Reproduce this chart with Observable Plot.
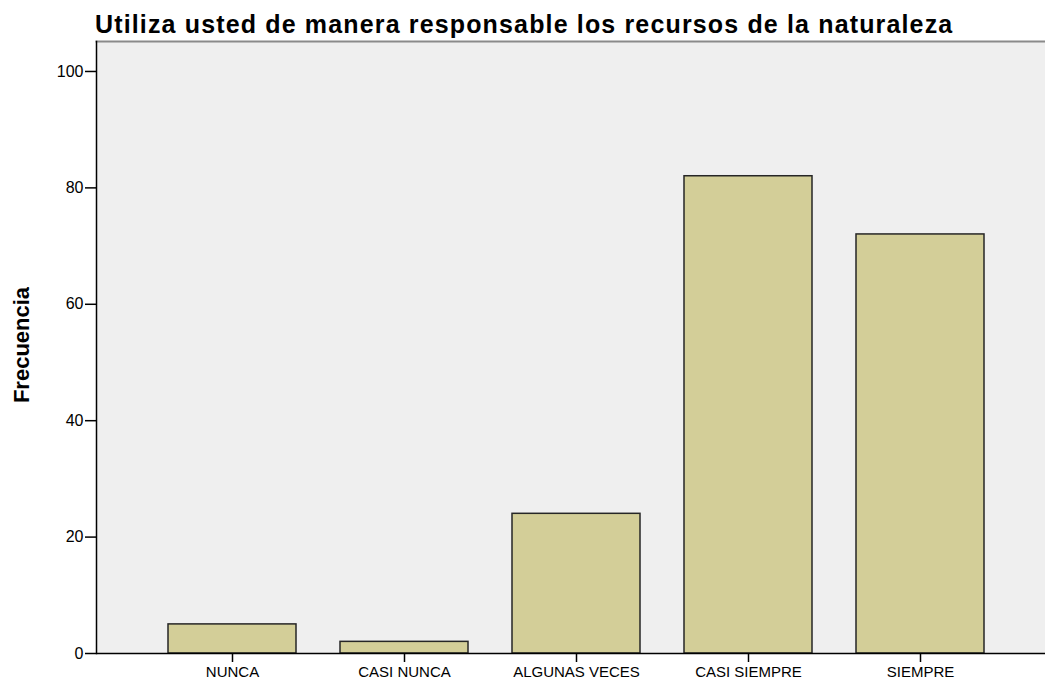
<!DOCTYPE html>
<html>
<head>
<meta charset="utf-8">
<script src="https://cdn.jsdelivr.net/npm/d3@7"></script>
<script src="https://cdn.jsdelivr.net/npm/@observablehq/plot@0.6"></script>
<style>
  html, body { margin: 0; padding: 0; background: #fff; }
  #wrap { position: relative; width: 1045px; height: 684px; font-family: "Liberation Sans", Arial, sans-serif; }
  #title { position: absolute; left: 95px; top: 10px; font-size: 25px; font-weight: bold; color: #000; white-space: nowrap; line-height: 28px; letter-spacing: 1.15px; }
  #ylab { position: absolute; left: 22px; top: 345px; transform: translate(-50%, -50%) rotate(-90deg); font-size: 22px; font-weight: bold; color: #000; white-space: nowrap; }
  #chart { position: absolute; left: 0; top: 40px; }
</style>
</head>
<body>
<div id="wrap">
  <div id="title">Utiliza usted de manera responsable los recursos de la naturaleza</div>
  <div id="ylab">Frecuencia</div>
  <div id="chart"></div>
</div>
<script>
const categories = ["NUNCA", "CASI NUNCA", "ALGUNAS VECES", "CASI SIEMPRE", "SIEMPRE"];
const frecuencias = [5, 2, 24, 82, 72];
const yTicks = [0, 20, 40, 60, 80, 100];

const data = categories.map((c, i) => ({cat: c, value: frecuencias[i]}));

const chart = Plot.plot({
  width: 1045,
  height: 644,
  marginLeft: 96,
  marginRight: 0,
  marginTop: 1,
  marginBottom: 31,
  style: {fontFamily: "'Liberation Sans', Arial, sans-serif", background: "transparent", overflow: "visible"},
  x: {domain: categories, range: [96, 1056], paddingInner: 0.253, paddingOuter: 0.405, label: null},
  y: {domain: [0, 105.15], label: null},
  marks: [
    Plot.frame({fill: "#efefef", stroke: null}),
    Plot.frame({anchor: "top", stroke: "#8a8a8a", strokeWidth: 2}),
    Plot.barY(data, {x: "cat", y: "value", fill: "#d3ce98", stroke: "#262626", strokeWidth: 1.5}),
    Plot.frame({anchor: "left", stroke: "#000", strokeWidth: 1.5}),
    Plot.ruleY([0], {stroke: "#000", strokeWidth: 1.5}),
    Plot.axisY({ticks: yTicks, tickSize: 11, tickPadding: 2, fontSize: 16, stroke: "#000", strokeWidth: 1.5, label: null}),
    Plot.axisX({tickSize: 9, tickPadding: 4, fontSize: 15, stroke: "#000", strokeWidth: 1.5, label: null})
  ]
});
document.getElementById("chart").appendChild(chart);
</script>
</body>
</html>
